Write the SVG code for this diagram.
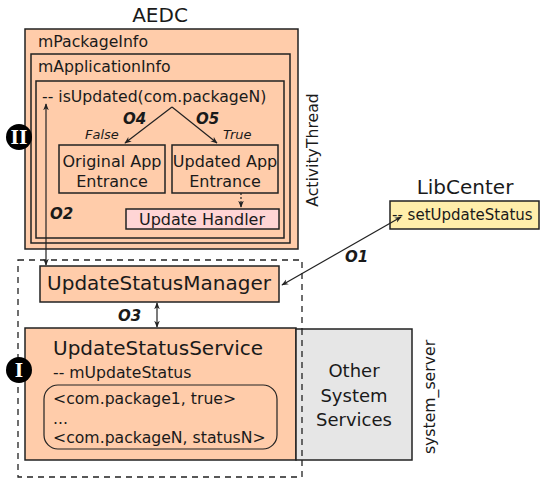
<svg xmlns="http://www.w3.org/2000/svg" width="541" height="479" viewBox="0 0 541 479">
<style>
text{font-family:"DejaVu Sans","Liberation Sans",sans-serif;fill:#1a1a1a}
.box{fill:#ffccaa;stroke:#222;stroke-width:1.5}
.ln{fill:none;stroke:#222;stroke-width:1.2}
.lbl{font-weight:bold;font-style:italic;font-size:15px}
.it{font-style:italic;font-size:13px}
.t15{font-size:15.7px}
.t16{font-size:16px}
.t20{font-size:20px}
.c{text-anchor:middle}
.badge{fill:#000}
.badgetxt{fill:#fff;font-family:"DejaVu Serif","Liberation Serif",serif;font-size:18px;font-weight:bold;text-anchor:middle}
</style>
<defs>
<marker id="ah" viewBox="0 0 10 10" refX="9" refY="5" markerWidth="7" markerHeight="7" orient="auto-start-reverse" markerUnits="userSpaceOnUse">
<path d="M0,1 L10,5 L0,9 L3,5 Z" fill="#222"/>
</marker>
</defs>

<text class="t20 c" x="160" y="22">AEDC</text>

<g id="activitythread">
<rect class="box" x="25" y="29" width="273" height="220"/>
<rect class="box" x="31" y="54" width="259" height="189"/>
<rect class="box" x="36" y="81" width="248" height="157"/>
<text class="t15" x="38" y="47">mPackageInfo</text>
<text class="t15" x="38" y="72">mApplicationInfo</text>
<text class="t15" x="42" y="102">-- isUpdated(com.packageN)</text>
<text class="t15" transform="translate(318,150) rotate(-90)" text-anchor="middle">ActivityThread</text>
</g>

<g id="original-app">
<rect class="box" x="59" y="145" width="106" height="48" style="fill:none"/>
<text class="t16 c" x="112" y="167">Original App</text>
<text class="t16 c" x="112" y="187">Entrance</text>
</g>

<g id="updated-app">
<rect class="box" x="172" y="145" width="106" height="48" style="fill:none"/>
<text class="t16 c" x="225" y="167">Updated App</text>
<text class="t16 c" x="225" y="187">Entrance</text>
</g>

<g id="update-handler">
<rect x="126" y="209" width="153" height="20" fill="#ffd5d5" stroke="#222" stroke-width="1.5"/>
<text class="t16 c" x="202" y="225">Update Handler</text>
</g>

<g id="badge-2">
<circle class="badge" cx="19" cy="137" r="13"/>
<text class="badgetxt" x="19" y="144">II</text>
</g>

<g id="system-server">
<rect x="18" y="260" width="284" height="217" fill="none" stroke="#222" stroke-width="1.3" stroke-dasharray="6,5"/>
<text class="t15" transform="translate(435,397) rotate(-90)" text-anchor="middle">system_server</text>
</g>

<g id="update-status-manager">
<rect class="box" x="40" y="266" width="239" height="36"/>
<text class="t20 c" x="159" y="290">UpdateStatusManager</text>
</g>

<g id="update-status-service">
<rect class="box" x="25" y="328" width="271" height="132"/>
<text class="t20" x="53" y="355">UpdateStatusService</text>
<text class="t15" x="53" y="378">-- mUpdateStatus</text>
<rect x="44" y="385" width="233" height="64" rx="14" ry="14" fill="none" stroke="#222" stroke-width="1.2"/>
<text class="t15" x="53" y="404">&lt;com.package1, true&gt;</text>
<text class="t15" x="53" y="424">...</text>
<text class="t15" x="53" y="443">&lt;com.packageN, statusN&gt;</text>
</g>

<g id="other-services">
<rect x="296" y="329" width="116" height="131" fill="#e6e6e6" stroke="#222" stroke-width="1.5"/>
<text class="c" x="354" y="377" style="font-size:18px">Other</text>
<text class="c" x="354" y="402" style="font-size:18px">System</text>
<text class="c" x="354" y="426" style="font-size:18px">Services</text>
</g>
<line x1="302" y1="329" x2="302" y2="460" stroke="#222" stroke-width="1.3" stroke-dasharray="6,5"/>

<g id="badge-1">
<circle class="badge" cx="19" cy="370" r="13"/>
<text class="badgetxt" x="19" y="377">I</text>
</g>

<g id="libcenter">
<text class="t20 c" x="465" y="194">LibCenter</text>
<rect x="390" y="201" width="149" height="28" fill="#ffeeaa" stroke="#222" stroke-width="1.5"/>
<text class="t15" x="392" y="220" style="font-size:15px">-- setUpdateStatus</text>
</g>

<g id="connectors">
<path class="ln" d="M172,107 L125,143" marker-end="url(#ah)"/>
<path class="ln" d="M172,107 L217,143" marker-end="url(#ah)"/>
<path class="ln" d="M241,193 L241,207" stroke-dasharray="2,2" marker-end="url(#ah)"/>
<path class="ln" d="M46,104 L46,265" marker-start="url(#ah)" marker-end="url(#ah)"/>
<path class="ln" d="M157,303 L157,327" marker-start="url(#ah)" marker-end="url(#ah)"/>
<path class="ln" d="M401,217 L282,285" marker-start="url(#ah)" marker-end="url(#ah)"/>
<text class="lbl" x="123" y="124">O4</text>
<text class="lbl" x="196" y="124">O5</text>
<text class="it" x="85" y="139">False</text>
<text class="it" x="223" y="139">True</text>
<text class="lbl" x="50" y="219">O2</text>
<text class="lbl" x="118" y="321">O3</text>
<text class="lbl" x="345" y="262">O1</text>
</g>
</svg>
